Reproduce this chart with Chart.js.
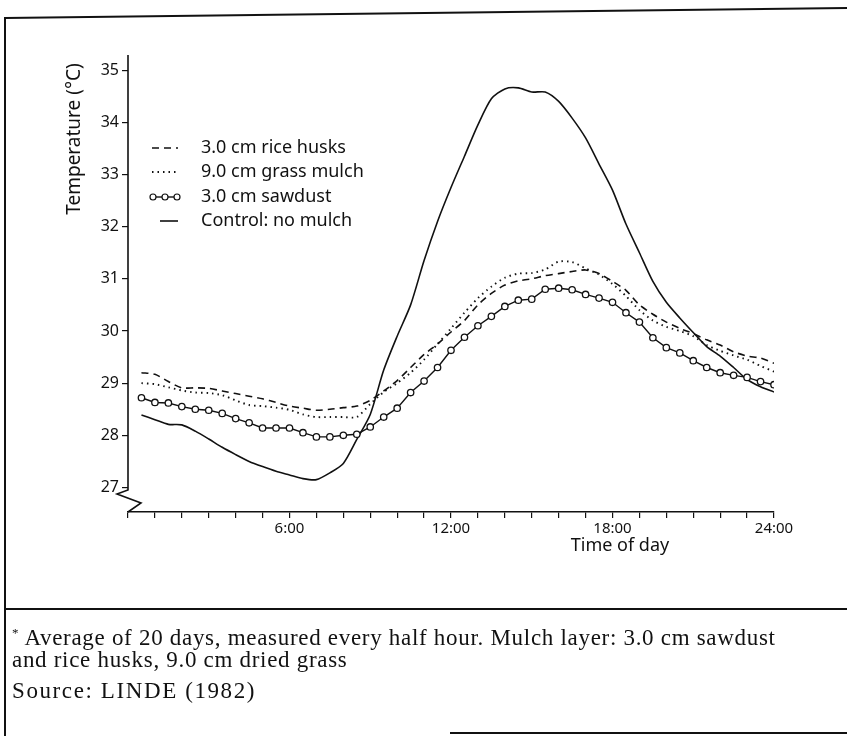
<!DOCTYPE html>
<html>
<head>
<meta charset="utf-8">
<script src="https://cdn.jsdelivr.net/npm/chart.js@4.4.1/dist/chart.umd.min.js"></script>
<style>
  body { margin: 0; background: #fff; }
  #page { position: relative; width: 847px; height: 736px; overflow: hidden; }
  #chartBox { position: absolute; left: 0; top: 0; width: 847px; height: 610px; }
  .rule { position: absolute; background: #111; }
  .note { position: absolute; left: 12px; font-family: "Liberation Serif", "Times New Roman", serif; font-size: 23px; letter-spacing: 0.7px; color: #111; line-height: 22px; white-space: nowrap; }
  .note sup { font-size: 13px; vertical-align: 8px; }
</style>
</head>
<body>
<div id="page">
  <div id="chartBox"><canvas id="myChart" width="847" height="610"></canvas></div>
  <svg width="847" height="736" style="position:absolute;left:0;top:0;pointer-events:none">
    <line x1="5" y1="18" x2="847" y2="8" stroke="#111" stroke-width="2"/>
  </svg>
  <div class="rule" style="left:4px; top:17px; width:2px; height:719px;"></div>
  <div class="rule" style="left:5px; top:608px; width:842px; height:2px;"></div>
  <div class="rule" style="left:450px; top:732px; width:397px; height:2px;"></div>
  <div class="note" style="top:622px;"><sup>*</sup> Average of 20 days, measured every half hour. Mulch layer: 3.0 cm sawdust<br>and rice husks, 9.0 cm dried grass</div>
  <div class="note" style="top:680px; letter-spacing: 1.6px;">Source: LINDE (1982)</div>
</div>
<script>
// time of day in hours, one reading every half hour
const hours = [0.5, 1, 1.5, 2, 2.5, 3, 3.5, 4, 4.5, 5, 5.5, 6, 6.5, 7, 7.5, 8,
    8.5, 9, 9.5, 10, 10.5, 11, 11.5, 12, 12.5, 13, 13.5, 14, 14.5, 15, 15.5, 16,
    16.5, 17, 17.5, 18, 18.5, 19, 19.5, 20, 20.5, 21, 21.5, 22, 22.5, 23, 23.5, 24];

const riceHusks = [29.2, 29.17, 29.03, 28.91, 28.91, 28.9, 28.85, 28.8, 28.75, 28.7, 28.63, 28.56,
    28.52, 28.48, 28.5, 28.53, 28.56, 28.67, 28.85, 29.05, 29.3, 29.55, 29.75, 29.98,
    30.2, 30.5, 30.72, 30.88, 30.96, 31.0, 31.06, 31.1, 31.14, 31.17, 31.1, 30.95,
    30.78, 30.5, 30.32, 30.17, 30.05, 29.95, 29.83, 29.73, 29.6, 29.52, 29.48, 29.38];

const grassMulch = [29.0, 28.98, 28.92, 28.86, 28.82, 28.81, 28.77, 28.67, 28.58, 28.56, 28.53, 28.49,
    28.4, 28.35, 28.35, 28.35, 28.35, 28.6, 28.83, 29.0, 29.2, 29.45, 29.75, 30.05,
    30.35, 30.63, 30.85, 31.02, 31.1, 31.11, 31.18, 31.33, 31.32, 31.2, 31.08, 30.9,
    30.67, 30.4, 30.2, 30.08, 30.0, 29.9, 29.73, 29.62, 29.53, 29.45, 29.33, 29.22];

const sawdust = [28.72, 28.63, 28.62, 28.55, 28.5, 28.48, 28.42, 28.32, 28.24, 28.14, 28.14, 28.14,
    28.05, 27.97, 27.97, 28.0, 28.02, 28.16, 28.35, 28.52, 28.82, 29.04, 29.3, 29.63,
    29.88, 30.1, 30.28, 30.47, 30.59, 30.61, 30.8, 30.82, 30.79, 30.7, 30.63, 30.55,
    30.35, 30.17, 29.87, 29.68, 29.58, 29.43, 29.3, 29.2, 29.15, 29.11, 29.03, 28.97];

const control = [28.39, 28.3, 28.21, 28.2, 28.08, 27.93, 27.77, 27.63, 27.5, 27.4, 27.31, 27.24,
    27.17, 27.15, 27.28, 27.46, 27.92, 28.4, 29.25, 29.9, 30.5, 31.35, 32.1, 32.75,
    33.35, 33.95, 34.45, 34.64, 34.66, 34.58, 34.58, 34.4, 34.08, 33.7, 33.2, 32.7,
    32.05, 31.5, 30.95, 30.55, 30.25, 29.97, 29.7, 29.52, 29.3, 29.07, 28.93, 28.83];

const seriesNames = ['3.0 cm rice husks', '9.0 cm grass mulch', '3.0 cm sawdust', 'Control: no mulch'];
const yTicks = [27, 28, 29, 30, 31, 32, 33, 34, 35];
const xLabelHours = [6, 12, 18, 24];

const INK = '#111';
const FONT = '"Noto Sans", sans-serif';

function pts(values) {
    return values.map((v, i) => ({ x: hours[i], y: v }));
}

// draws the broken y axis, axis titles and the legend inside the plot
const decor = {
    id: 'decor',
    afterDraw(chart) {
        const { ctx, chartArea: a } = chart;
        ctx.save();
        ctx.strokeStyle = INK;
        ctx.lineWidth = 1.6;

        // y axis with the break near the bottom
        ctx.beginPath();
        ctx.moveTo(a.left, a.top);
        ctx.lineTo(a.left, a.bottom - 22);
        ctx.lineTo(a.left - 11, a.bottom - 18);
        ctx.lineTo(a.left + 13, a.bottom - 9);
        ctx.lineTo(a.left, a.bottom);
        ctx.stroke();

        // axis titles
        ctx.fillStyle = INK;
        ctx.textAlign = 'center';
        ctx.textBaseline = 'middle';
        ctx.font = '18px ' + FONT;
        ctx.fillText('Time of day', 620, 546);
        ctx.save();
        ctx.translate(75, 139);
        ctx.rotate(-Math.PI / 2);
        ctx.font = '19px ' + FONT;
        ctx.fillText('Temperature (°C)', 0, 0);
        ctx.restore();

        // legend
        const rows = [148, 172, 197, 221];
        ctx.textAlign = 'left';
        ctx.font = '18px ' + FONT;
        chart.data.datasets.forEach((ds, i) => {
            const yy = rows[i];
            ctx.save();
            ctx.lineWidth = ds.borderWidth;
            ctx.setLineDash(ds.borderDash || []);
            ctx.beginPath();
            ctx.moveTo(i === 3 ? 160 : 152, yy);
            ctx.lineTo(178, yy);
            ctx.stroke();
            if (ds.pointRadius > 0) {
                ctx.setLineDash([]);
                ctx.fillStyle = '#fff';
                ctx.lineWidth = 1.2;
                [153, 165, 177].forEach(cx => {
                    ctx.beginPath();
                    ctx.arc(cx, yy, 3, 0, Math.PI * 2);
                    ctx.fill();
                    ctx.stroke();
                });
            }
            ctx.restore();
            ctx.fillText(ds.label, 201, yy);
        });
        ctx.restore();
    }
};

const ctx = document.getElementById('myChart').getContext('2d');
const myChart = new Chart(ctx, {
    type: 'line',
    data: {
        datasets: [
            {
                label: seriesNames[0], data: pts(riceHusks),
                borderColor: INK, borderWidth: 1.6, borderDash: [7, 5],
                pointRadius: 0, tension: 0.25
            },
            {
                label: seriesNames[1], data: pts(grassMulch),
                borderColor: INK, borderWidth: 1.9, borderDash: [1.5, 4],
                pointRadius: 0, tension: 0.25
            },
            {
                label: seriesNames[2], data: pts(sawdust),
                borderColor: INK, borderWidth: 1.4,
                pointRadius: 3.2, pointBackgroundColor: '#fff', pointBorderColor: INK,
                pointBorderWidth: 1.3, tension: 0
            },
            {
                label: seriesNames[3], data: pts(control),
                borderColor: INK, borderWidth: 1.6,
                pointRadius: 0, tension: 0.25
            }
        ]
    },
    options: {
        responsive: false,
        animation: false,
        layout: { padding: { left: 0, right: 73, top: 55, bottom: 0 } },
        plugins: {
            legend: { display: false },
            tooltip: { enabled: false }
        },
        scales: {
            x: {
                type: 'linear',
                min: 0,
                max: 24,
                afterFit(scale) { scale.height = 98; },
                border: { display: true, color: INK, width: 1.6 },
                grid: { display: true, drawOnChartArea: false, drawTicks: true, tickLength: 6, color: INK, lineWidth: 1.2 },
                ticks: {
                    stepSize: 1,
                    autoSkip: false,
                    maxRotation: 0,
                    padding: 2,
                    color: INK,
                    font: { family: FONT, size: 15 },
                    callback: v => xLabelHours.includes(v) ? v + ':00' : ''
                }
            },
            y: {
                type: 'linear',
                min: 26.53,
                max: 35.29,
                afterFit(scale) { scale.width = 128; },
                afterBuildTicks(scale) { scale.ticks = yTicks.map(v => ({ value: v })); },
                border: { display: false },
                grid: { display: true, drawOnChartArea: false, drawTicks: true, tickLength: 6, color: INK, lineWidth: 1.2 },
                ticks: {
                    padding: 3,
                    color: INK,
                    font: { family: FONT, size: 16 },
                    callback: v => String(v)
                }
            }
        }
    },
    plugins: [decor]
});
</script>
</body>
</html>
